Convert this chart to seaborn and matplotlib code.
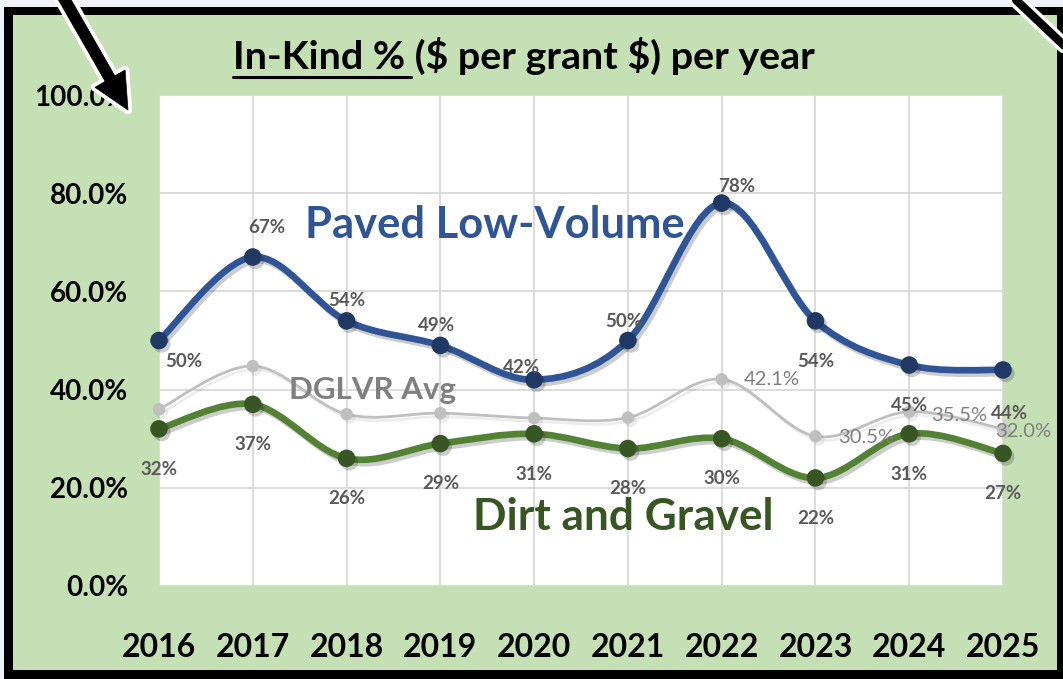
import numpy as np
import pandas as pd
import seaborn as sns
import matplotlib
matplotlib.use('Agg')
import matplotlib.pyplot as plt
from matplotlib.path import Path
from matplotlib.patches import PathPatch, Rectangle, FancyArrowPatch
from matplotlib.lines import Line2D
import matplotlib.patheffects as pe

# ---- data ----
years = ['2016', '2017', '2018', '2019', '2020', '2021', '2022', '2023', '2024', '2025']
paved = [50, 67, 54, 49, 42, 50, 78, 54, 45, 44]
dirt = [32, 37, 26, 29, 31, 28, 30, 22, 31, 27]
dglvr = [36.0, 44.8, 35.0, 35.2, 34.2, 34.3, 42.1, 30.5, 35.5, 32.0]
dglvr_shown = [6, 7, 8, 9]          # only the last four averages carry a label
yticks = [0, 20, 40, 60, 80, 100]

# label offsets (points) for each data label
paved_off = [(18, -15), (10, 21), (0, 15), (-3, 14), (-9, 9), (-3, 14), (11, 12), (0, -29), (0, -29), (5, -31)]
dirt_off = [(0, -29)] * 10
dglvr_off = {6: (16, 0), 7: (16, -1), 8: (16, -3), 9: (-6, -2)}

sns.set_theme(style='white')
plt.rcParams['font.family'] = ['Lato', 'DejaVu Sans']
plt.rcParams['text.parse_math'] = False

W, H = 1063, 679
fig = plt.figure(figsize=(W / 100, H / 100), dpi=100)
fig.patch.set_facecolor('#eef1f6')

# frame: black border + light green panel
fig.add_artist(Rectangle((4 / W, 0), 1, 1 - 7 / H, transform=fig.transFigure,
                         facecolor='black', edgecolor='none', zorder=-10))
fig.add_artist(Rectangle((13 / W, 9 / H), (1057 - 13) / W, (670 - 15) / H,
                         transform=fig.transFigure, facecolor='#c5e0b4',
                         edgecolor='none', zorder=-9))

ax = fig.add_axes([159 / W, 1 - 586 / H, (1003 - 159) / W, (586 - 95) / H])
ax.set_facecolor('white')
x = np.arange(len(years))


def smooth_path(xs, ys):
    # Excel-style smoothed line (Catmull-Rom as cubic Bezier)
    pts = np.column_stack([xs, ys]).astype(float)
    n = len(pts)
    verts, codes = [pts[0]], [Path.MOVETO]
    for i in range(n - 1):
        p0, p1 = pts[max(i - 1, 0)], pts[i]
        p2, p3 = pts[i + 1], pts[min(i + 2, n - 1)]
        verts += [p1 + (p2 - p0) / 6, p2 - (p3 - p1) / 6, p2]
        codes += [Path.CURVE4] * 3
    return Path(verts, codes)


def shadows(a):
    return ([pe.SimpleLineShadow(offset=(2, -2.5), shadow_color='k', alpha=a), pe.Normal()],
            [pe.SimplePatchShadow(offset=(2, -2.5), shadow_rgbFace='k', alpha=a), pe.Normal()])


series = [
    (dglvr, '#bfbfbf', '#bfbfbf', 2.0, 80, 0.08),
    (dirt, '#548235', '#375623', 4.8, 160, 0.22),
    (paved, '#2f5597', '#1f3864', 4.8, 160, 0.22),
]
for k, (vals, lc, mc, lw, ms, sa) in enumerate(series):
    lsh, msh = shadows(sa)
    ax.add_patch(PathPatch(smooth_path(x, vals), fill=False, edgecolor=lc, lw=lw,
                           capstyle='round', joinstyle='round', zorder=3 + k,
                           path_effects=lsh, clip_on=False))
    sns.scatterplot(x=x, y=vals, ax=ax, color=mc, s=ms, edgecolor=mc, linewidth=0,
                    zorder=3.5 + k, clip_on=False, path_effects=msh, legend=False)

# data labels
for i, v in enumerate(paved):
    ax.annotate(f'{v}%', (x[i], v), xytext=paved_off[i], textcoords='offset points',
                ha='center', va='center', fontsize=13.5, fontweight='bold', color='#595959', zorder=8)
for i, v in enumerate(dirt):
    ax.annotate(f'{v}%', (x[i], v), xytext=dirt_off[i], textcoords='offset points',
                ha='center', va='center', fontsize=13.5, fontweight='bold', color='#595959', zorder=8)
for i in dglvr_shown:
    ax.annotate(f'{dglvr[i]:.1f}%', (x[i], dglvr[i]), xytext=dglvr_off[i], textcoords='offset points',
                ha='left', va='center', fontsize=14.5, color='#7f7f7f', zorder=8)

# series names
ax.text(1.56, 70.9, 'Paved Low-Volume', fontsize=31.3, fontweight='bold', color='#2f5597',
        ha='left', va='baseline', zorder=9)
ax.text(1.39, 38.1, 'DGLVR Avg', fontsize=22.5, fontweight='bold', color='#808080',
        ha='left', va='baseline', zorder=9)
ax.text(3.35, 11.4, 'Dirt and Gravel', fontsize=31.8, fontweight='bold', color='#375623',
        ha='left', va='baseline', zorder=9)

ax.set_xlim(0, 9)
ax.set_ylim(0, 100)
ax.set_xticks(x)
ax.set_xticklabels(years, fontsize=23, fontweight='bold', color='black')
ax.set_yticks(yticks)
ax.set_yticklabels([f'{v:.1f}%' for v in yticks], fontsize=20, fontweight='bold', color='black')
ax.tick_params(axis='x', length=0, pad=34)
ax.tick_params(axis='y', length=0, pad=22)
ax.grid(True, color='#d9d9d9', lw=1.3)
ax.set_axisbelow(True)
for s in ax.spines.values():
    s.set_visible(False)

# title with the first part underlined
tx, ty = 233 / W, 1 - 69 / H
fig.text(tx, ty, 'In-Kind % ($ per grant $) per year', fontsize=28.4, fontweight='bold',
         color='black', ha='left', va='baseline')
r = fig.canvas.get_renderer()
probe = fig.text(tx, ty, 'In-Kind %', fontsize=28.4, fontweight='bold', va='baseline')
bb = probe.get_window_extent(r)
probe.remove()
fig.add_artist(Line2D([bb.x0 / W, (bb.x1 + 6) / W], [1 - 77 / H] * 2, color='black', lw=2.2,
                      transform=fig.transFigure))

# pointer arrows on top
glow = [pe.withStroke(linewidth=6, foreground='white')]
arrow = FancyArrowPatch((62 / W, 1 + 5 / H), (128 / W, 1 - 110 / H), transform=fig.transFigure,
                        arrowstyle='simple,head_length=2.6,head_width=2.5,tail_width=0.8',
                        mutation_scale=10, shrinkA=0, shrinkB=0, facecolor='black',
                        edgecolor='black', lw=0.5, zorder=20, path_effects=glow)
fig.add_artist(arrow)
fig.add_artist(Line2D([1016 / W, 1075 / W], [1, 1 - 56 / H], color='black', lw=6,
                      transform=fig.transFigure, zorder=20,
                      path_effects=[pe.withStroke(linewidth=11, foreground='white')]))

fig.savefig('out.png', dpi=100)
